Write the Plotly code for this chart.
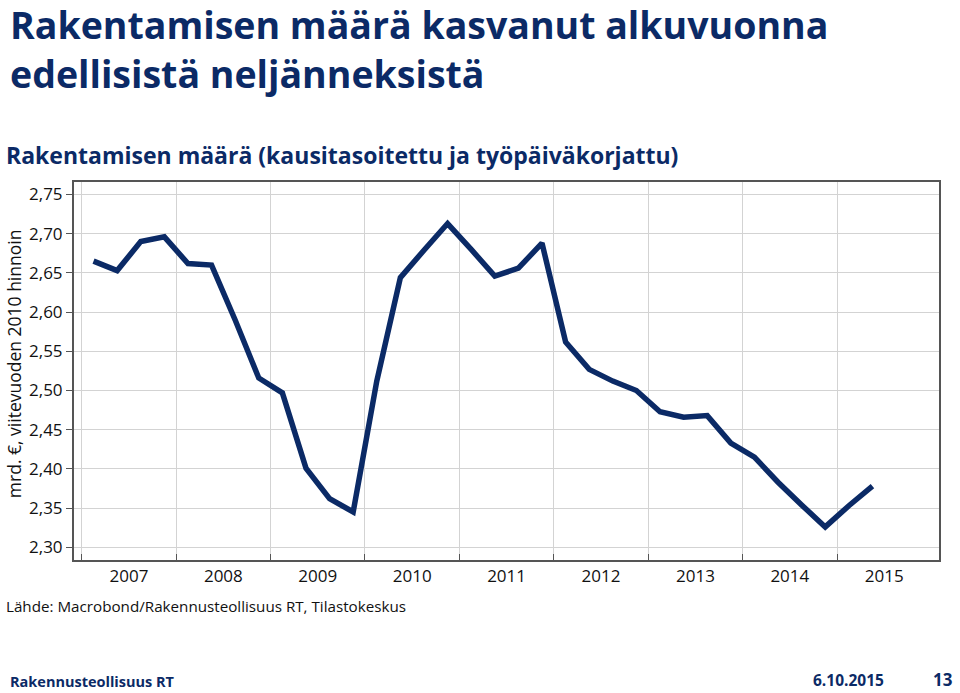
import plotly.graph_objects as go

# ---- data ----
quarters = [f"{y}Q{q}" for y in range(2007, 2016) for q in range(1, 5)][:34]
values = [2.665, 2.653, 2.690, 2.696, 2.662, 2.660, 2.590, 2.516,
          2.497, 2.401, 2.362, 2.345, 2.512, 2.644, 2.679, 2.713,
          2.680, 2.646, 2.656, 2.688, 2.562, 2.527, 2.512, 2.500,
          2.473, 2.466, 2.468, 2.433, 2.415, 2.383, 2.354, 2.326,
          2.353, 2.378]
years = list(range(2007, 2016))
year_labels = [str(y) for y in years]
y_ticks = [2.30, 2.35, 2.40, 2.45, 2.50, 2.55, 2.60, 2.65, 2.70, 2.75]

# quarter -> decimal year at mid-quarter
x_pos = [int(s[:4]) + (int(s[-1]) - 0.5) / 4 for s in quarters]

NAVY = "#0b2a66"
FONT = "Open Sans, Lato, sans-serif"

# plot area in pixels
L, R, T, B = 74, 939.3, 181.7, 560
W, H = 960, 693


def px(x):
    return (x - L) / (R - L)


def py(y):
    return (B - y) / (B - T)


fig = go.Figure()
fig.add_trace(go.Scatter(x=x_pos, y=values, mode="lines",
                         line=dict(color=NAVY, width=5.5),
                         hoverinfo="skip", showlegend=False))

fig.update_layout(
    width=W, height=H,
    margin=dict(l=L, r=W - R, t=T, b=H - B, pad=0),
    paper_bgcolor="white", plot_bgcolor="white",
    separators=", ",
    font=dict(family=FONT, color="#111111"),
    xaxis=dict(
        range=[2006.918, 2016.08],
        tickmode="array", tickvals=[y + 0.5 for y in years], ticktext=year_labels,
        ticks="", showgrid=False, zeroline=False,
        tickfont=dict(size=17, color="#111111"),
        showline=True, linecolor="#555555", linewidth=2, mirror=True,
        minor=dict(tickmode="array", tickvals=years, showgrid=True,
                   gridcolor="#d3d3d3", gridwidth=1,
                   ticks="inside", ticklen=6, tickcolor="#555555"),
    ),
    yaxis=dict(
        range=[2.2838, 2.766],
        tickmode="array", tickvals=y_ticks, tickformat=".2f",
        ticks="outside", ticklen=6, tickcolor="#555555",
        showgrid=True, gridcolor="#d3d3d3", gridwidth=1, zeroline=False,
        tickfont=dict(size=17, color="#111111"),
        showline=True, linecolor="#555555", linewidth=2, mirror=True,
    ),
)

anns = [
    dict(text="<b>Rakentamisen määrä kasvanut alkuvuonna</b>", x=px(8), y=py(24),
         font=dict(size=37.5, color=NAVY)),
    dict(text="<b>edellisistä neljänneksistä</b>", x=px(8), y=py(73),
         font=dict(size=37.5, color=NAVY)),
    dict(text="<b>Rakentamisen määrä (kausitasoitettu ja työpäiväkorjattu)</b>", x=px(4), y=py(155),
         font=dict(size=23, color=NAVY)),
    dict(text="Lähde: Macrobond/Rakennusteollisuus RT, Tilastokeskus", x=px(4), y=py(606),
         font=dict(size=15.2, color="#111111")),
]
for a in anns:
    fig.add_annotation(xref="paper", yref="paper", xanchor="left", yanchor="middle",
                       showarrow=False, **a)

footer = [
    dict(text="<b>Rakennusteollisuus RT</b>", x=px(9), font=dict(size=14.5, color=NAVY)),
    dict(text="<b>6.10.2015</b>", x=px(812), font=dict(size=15.5, color=NAVY)),
    dict(text="<b>13</b>", x=px(932), font=dict(size=17, color=NAVY)),
]
for a in footer:
    fig.add_annotation(xref="paper", yref="paper", xanchor="left", yanchor="bottom",
                       y=py(692), showarrow=False, borderpad=0, **a)

fig.add_annotation(text="mrd. €, viitevuoden 2010 hinnoin", xref="paper", yref="paper",
                   x=px(14), y=py(364), xanchor="center", yanchor="middle",
                   textangle=-90, showarrow=False,
                   font=dict(size=17.5, color="#111111"))

fig.write_html("out.html")
